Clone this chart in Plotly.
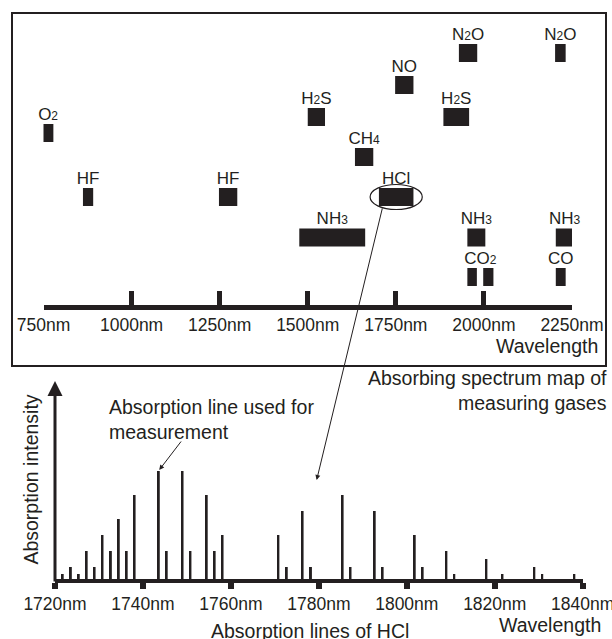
import plotly.graph_objects as go

W, H = 612, 639
INK = "#231f20"
FONT = "Liberation Sans, Arial, sans-serif"

# ---------------- data: absorbing spectrum map of measuring gases ----------------
band_gas = ["O2", "HF", "HF", "NH3", "H2S", "CH4", "NO", "HCl", "H2S",
            "N2O", "NH3", "CO2", "CO2", "N2O", "NH3", "CO"]
band_start = [748, 862, 1248, 1476, 1500, 1634, 1748, 1702, 1885,
              1929, 1953, 1953, 1998, 2202, 2204, 2204]
band_end = [778, 891, 1300, 1663, 1549, 1686, 1800, 1800, 1958,
            1981, 2004, 1980, 2027, 2232, 2254, 2232]
map_ticks = [750, 1000, 1250, 1500, 1750, 2000, 2250]
map_ticktext = [f"{v}nm" for v in map_ticks]

# ---------------- data: absorption lines of HCl ----------------
hcl_wl = [1721.75, 1723.6, 1725.4, 1727.2, 1729.0, 1730.8, 1732.7, 1734.5, 1736.3,
          1738.1, 1743.6, 1745.4, 1749.0, 1750.8, 1754.5, 1756.3, 1758.1, 1770.8,
          1772.7, 1776.3, 1778.2, 1785.4, 1787.2, 1792.7, 1794.5, 1801.8, 1803.6,
          1809.0, 1810.8, 1818.1, 1821.75, 1829.0, 1830.8, 1838.1]
hcl_int = [5, 12, 5, 28, 12, 44, 28, 60, 28,
           84, 108, 28, 108, 28, 84, 28, 44, 44,
           12, 68, 12, 84, 12, 68, 12, 44, 12,
           28, 5, 20, 5, 12, 5, 5]
hcl_ticks = [1720, 1740, 1760, 1780, 1800, 1820, 1840]
hcl_ticktext = [f"{v}nm" for v in hcl_ticks]

# ---------------- styling / layout helpers (not data) ----------------
SUB = "<span style='font-size:12px'>{}</span>"
gas_label = {
    "O2": "O" + SUB.format("2"), "HF": "HF", "NH3": "NH" + SUB.format("3"),
    "H2S": "H" + SUB.format("2") + "S", "CH4": "CH" + SUB.format("4"),
    "NO": "NO", "HCl": "HCl", "N2O": "N" + SUB.format("2") + "O",
    "CO2": "CO" + SUB.format("2"), "CO": "CO",
}
gas_row = {"N2O": 252, "NO": 220, "H2S": 188, "O2": 172, "CH4": 148,
           "HF": 108, "HCl": 108, "NH3": 67.5, "CO2": 28, "CO": 28}
BAR_T = 18
TICK_SIZE = 17.5
TEXT_SIZE = 19.5
Y2_TOP = 199

# group adjacent bands of the same gas for a single label
groups = []
for g, s, e in zip(band_gas, band_start, band_end):
    if groups and groups[-1][0] == g and s - groups[-1][2] < 40:
        groups[-1][2] = max(groups[-1][2], e)
    else:
        groups.append([g, s, e])

fig = go.Figure()

fig.add_trace(go.Bar(
    orientation="h",
    y=[gas_row[g] for g in band_gas],
    base=band_start,
    x=[e - s for s, e in zip(band_start, band_end)],
    width=BAR_T,
    marker=dict(color=INK, line=dict(width=0)),
    xaxis="x", yaxis="y", showlegend=False, hoverinfo="skip",
))
fig.add_trace(go.Scatter(
    x=[(s + e) / 2 for g, s, e in groups],
    y=[gas_row[g] + BAR_T / 2 for g, s, e in groups],
    text=[gas_label[g] for g, s, e in groups],
    mode="text", textposition="top center",
    textfont=dict(size=17, color=INK, family=FONT),
    xaxis="x", yaxis="y", showlegend=False, hoverinfo="skip",
    cliponaxis=False,
))

fig.add_trace(go.Bar(
    x=hcl_wl, y=hcl_int, width=0.45,
    marker=dict(color=INK, line=dict(width=0)),
    xaxis="x2", yaxis="y2", showlegend=False, hoverinfo="skip",
))

def px_x(p):
    return p / W

def px_y(p):
    return 1 - p / H

fig.update_layout(
    width=W, height=H,
    margin=dict(l=0, r=0, t=0, b=0, autoexpand=False),
    paper_bgcolor="white", plot_bgcolor="rgba(0,0,0,0)",
    barmode="overlay",
    font=dict(family=FONT, color=INK),
    xaxis=dict(
        domain=[px_x(43.5), px_x(572)], range=[750, 2250], anchor="y",
        automargin=False, ticklabeloverflow="allow",
        showgrid=False, zeroline=False, showline=True, linewidth=5, linecolor=INK,
        ticks="inside", ticklen=14, tickwidth=5, tickcolor=INK,
        tickvals=map_ticks, ticktext=map_ticktext,
        tickfont=dict(size=TICK_SIZE, color=INK, family=FONT),
    ),
    yaxis=dict(
        domain=[px_y(305), px_y(13)], range=[0, 292], anchor="x",
        visible=False, automargin=False,
    ),
    xaxis2=dict(
        domain=[px_x(55), px_x(582.7)], range=[1720, 1840], anchor="y2",
        automargin=False, ticklabeloverflow="allow",
        showgrid=False, zeroline=False, showline=True, linewidth=4, linecolor=INK,
        ticks="outside", ticklen=6, tickwidth=6, tickcolor=INK,
        tickvals=hcl_ticks, ticktext=hcl_ticktext,
        tickfont=dict(size=TICK_SIZE, color=INK, family=FONT),
    ),
    yaxis2=dict(
        domain=[px_y(579), px_y(579 - Y2_TOP)], range=[0, Y2_TOP], anchor="x2",
        automargin=False,
        showgrid=False, zeroline=False, showline=False, ticks="",
        showticklabels=False,
        title=dict(text="Absorption intensity", standoff=10,
                   font=dict(size=TEXT_SIZE, color=INK, family=FONT)),
    ),
)

# frame around the map
fig.add_shape(type="rect", xref="paper", yref="paper",
              x0=px_x(12), x1=px_x(606), y0=px_y(366), y1=px_y(13),
              line=dict(color=INK, width=2))

# ellipse around HCl band
hi = band_gas.index("HCl")
fig.add_shape(type="circle", xref="x", yref="y",
              x0=band_start[hi] - 25, x1=band_end[hi] + 25,
              y0=gas_row["HCl"] - 12.5, y1=gas_row["HCl"] + 12.5,
              line=dict(color=INK, width=1.2))

# vertical intensity axis with arrow
fig.add_annotation(xref="x2", yref="y2", axref="x2", ayref="y2",
                   x=hcl_ticks[0], y=Y2_TOP - 1, ax=hcl_ticks[0], ay=-4,
                   showarrow=True, arrowhead=2, arrowsize=1, arrowwidth=3,
                   arrowcolor=INK, text="")

# connector from HCl ellipse to spectrum
fig.add_annotation(xref="x2", yref="y2", x=1779.5, y=99, ax=66, ay=-273,
                   showarrow=True, arrowhead=2, arrowsize=1, arrowwidth=1,
                   arrowcolor=INK, text="")

# measurement line pointer
imax = hcl_int.index(max(hcl_int))
fig.add_annotation(xref="x2", yref="y2", x=hcl_wl[imax] + 0.1, y=hcl_int[imax] + 1,
                   ax=23, ay=-30, showarrow=True, arrowhead=2, arrowsize=1,
                   arrowwidth=1, arrowcolor=INK, text="")

def note(text, x, y, xanchor, align="left", size=TEXT_SIZE):
    fig.add_annotation(xref="paper", yref="paper", x=px_x(x), y=px_y(y),
                       xanchor=xanchor, yanchor="middle", align=align,
                       text=text, showarrow=False,
                       font=dict(size=size, color=INK, family=FONT))

note("Absorption line used for<br>measurement", 106.5, 419.2, "left")
note("Absorbing spectrum map of<br>measuring gases", 609, 390.3, "right", "right")
note("Wavelength", 600, 346, "right", "right")
note("Wavelength", 603, 625, "right", "right")
note("Absorption lines of HCl", 310, 630.5, "center", "center")

fig.write_html(
    "out.html",
    config={"displayModeBar": False},
    post_script="document.body.style.margin='0';document.body.style.overflow='hidden';",
)
